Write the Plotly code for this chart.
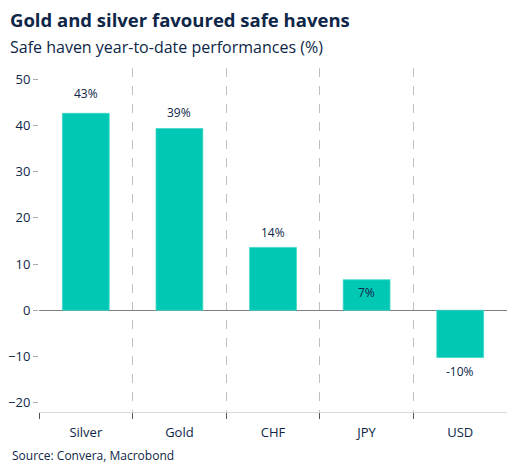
import plotly.graph_objects as go

categories = ["Silver", "Gold", "CHF", "JPY", "USD"]
values = [42.6, 39.3, 13.6, 6.6, -10.2]
labels = ["43%", "39%", "14%", "7%", "-10%"]
y_ticks = [-20, -10, 0, 10, 20, 30, 40, 50]

NAVY = "#0E2647"
BAR = "#00C8B4"
FONT = "Segoe UI, Open Sans, Noto Sans, sans-serif"

xs = list(range(len(categories)))

fig = go.Figure()
fig.add_trace(go.Bar(
    x=xs, y=values, width=0.5,
    marker=dict(color=BAR, line=dict(color="#3FD6C6", width=0.8)),
    hoverinfo="skip",
))

label_shift = [20, 16, 15, -13, -14]
for xi, v, t, s in zip(xs, values, labels, label_shift):
    fig.add_annotation(x=xi, y=v, text=t, showarrow=False, yshift=s,
                       font=dict(size=12, color=NAVY, family=FONT))

fig.update_layout(
    width=522, height=466,
    margin=dict(l=31, r=23, t=60, b=62),
    paper_bgcolor="white", plot_bgcolor="white",
    showlegend=False,
    font=dict(family=FONT, color=NAVY),
    xaxis=dict(
        range=[-0.5, len(categories) - 0.5],
        tickmode="array", tickvals=xs, ticktext=categories,
        ticks="", showgrid=False, zeroline=False, automargin=False,
        showline=True, linecolor="#D9D9D9", linewidth=1,
        tickfont=dict(size=13, color=NAVY),
        ticklabelstandoff=8,
        minor=dict(tickmode="array", tickvals=[i - 0.5 for i in xs],
                   ticks="outside", ticklen=6, tickcolor="#555555",
                   showgrid=True, griddash="dash", gridcolor="#C0C0C0", gridwidth=1),
    ),
    yaxis=dict(
        range=[-22, 52.4], automargin=False,
        tickmode="array", tickvals=y_ticks,
        ticks="outside", ticklen=5, tickcolor="#AAAAAA",
        showgrid=False, showline=False,
        zeroline=True, zerolinecolor="#808080", zerolinewidth=1.2,
        tickfont=dict(size=13, color=NAVY),
    ),
)

fig.add_annotation(xref="paper", yref="paper", x=-0.066, y=1.140, xanchor="left", yanchor="middle",
                   text="<b>Gold and silver favoured safe havens</b>", showarrow=False,
                   font=dict(size=18.5, color=NAVY, family=FONT))
fig.add_annotation(xref="paper", yref="paper", x=-0.066, y=1.061, xanchor="left", yanchor="middle",
                   text="Safe haven year-to-date performances (%)", showarrow=False,
                   font=dict(size=16, color=NAVY, family=FONT))
fig.add_annotation(xref="paper", yref="paper", x=-0.062, y=-0.125, xanchor="left", yanchor="middle",
                   text="Source: Convera, Macrobond", showarrow=False,
                   font=dict(size=12, color=NAVY, family=FONT))

fig.write_html("out.html")
